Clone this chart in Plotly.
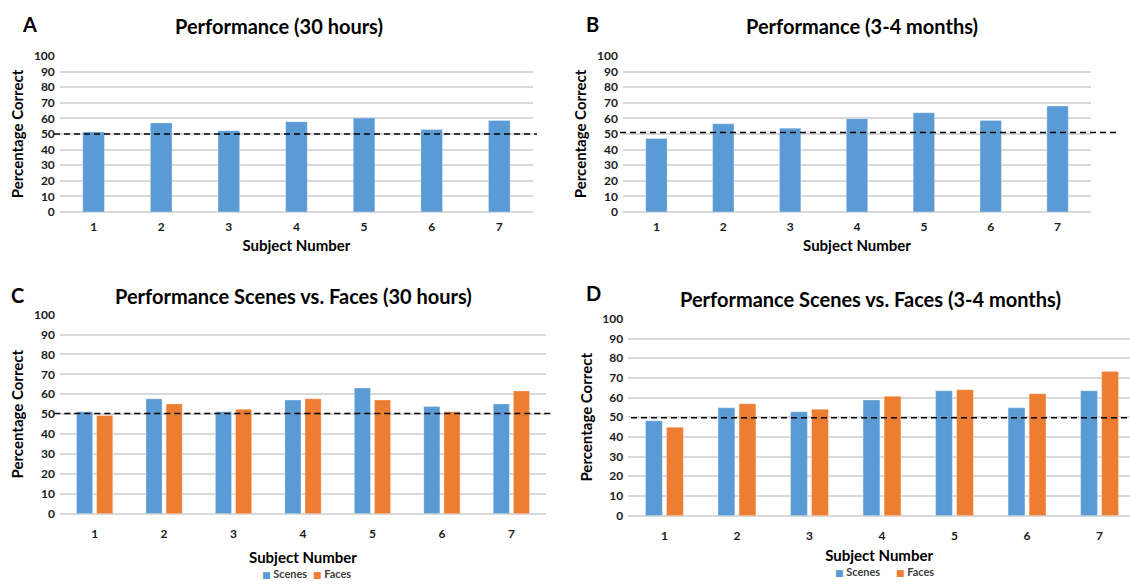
import plotly.graph_objects as go

subjects = ["1", "2", "3", "4", "5", "6", "7"]
perf_30h = [51.2, 57.1, 52.1, 57.9, 60.2, 52.9, 58.7]
perf_34m = [47.1, 56.5, 53.7, 59.8, 63.7, 58.7, 67.9]
scenes_30h = [51.2, 57.7, 51.2, 57.1, 63.1, 53.8, 55.1]
faces_30h = [49.3, 55.1, 52.5, 57.7, 57.1, 51.2, 61.7]
scenes_34m = [48.2, 54.8, 52.8, 58.7, 63.4, 54.8, 63.4]
faces_34m = [44.9, 56.8, 54.1, 60.7, 64.0, 62.0, 73.3]
chance = {"A": 50.0, "B": 51.0, "C": 50.3, "D": 49.8}
y_ticks = [0, 10, 20, 30, 40, 50, 60, 70, 80, 90, 100]
series_names = ["Scenes", "Faces"]

BLUE = "#5B9BD5"
ORANGE = "#ED7D31"
GRID = "#D9D9D9"
FONT = "Lato"
W, H = 1130, 586

def px(x):
    return x / W

def py(y):
    return 1 - y / H

fig = go.Figure()

bar_line = dict(color="rgba(255,255,255,0.5)", width=0.6)

fig.add_trace(go.Bar(x=subjects, y=perf_30h, marker=dict(color=BLUE, line=bar_line),
                     xaxis="x", yaxis="y", showlegend=False, width=0.32))
fig.add_trace(go.Bar(x=subjects, y=perf_34m, marker=dict(color=BLUE, line=bar_line),
                     xaxis="x2", yaxis="y2", showlegend=False, width=0.32))
fig.add_trace(go.Bar(x=subjects, y=scenes_30h, name=series_names[0], marker=dict(color=BLUE, line=bar_line),
                     xaxis="x3", yaxis="y3", showlegend=False, offsetgroup="s"))
fig.add_trace(go.Bar(x=subjects, y=faces_30h, name=series_names[1], marker=dict(color=ORANGE, line=bar_line),
                     xaxis="x3", yaxis="y3", showlegend=False, offsetgroup="f"))
fig.add_trace(go.Bar(x=subjects, y=scenes_34m, name=series_names[0], marker=dict(color=BLUE, line=bar_line),
                     xaxis="x4", yaxis="y4", showlegend=False, offsetgroup="s"))
fig.add_trace(go.Bar(x=subjects, y=faces_34m, name=series_names[1], marker=dict(color=ORANGE, line=bar_line),
                     xaxis="x4", yaxis="y4", showlegend=False, offsetgroup="f"))

tickfont = dict(family=FONT, size=12, color="#1a1a1a", weight="bold")
titlefont = dict(family=FONT, size=15, color="#000000", weight="bold")

def xax(dom, rng=(-0.5, 6.5), anchor="y", tstand=6, ttl=7):
    return dict(domain=dom, type="category", range=list(rng), anchor=anchor,
                showgrid=False, zeroline=False, showline=False, ticks="",
                tickfont=tickfont, ticklabelstandoff=tstand,
                title=dict(text="Subject Number", font=titlefont, standoff=ttl))

def yax(dom, anchor="x"):
    return dict(domain=dom, range=[0, 100], anchor=anchor, tickvals=y_ticks,
                showgrid=True, gridcolor=GRID, gridwidth=1.5, zeroline=True,
                zerolinecolor=GRID, zerolinewidth=1.5, showline=False, ticks="",
                tickfont=tickfont, ticklabelstandoff=4,
                title=dict(text="Percentage Correct", font=titlefont, standoff=6))

fig.update_layout(
    width=W, height=H,
    margin=dict(l=0, r=0, t=0, b=0),
    paper_bgcolor="white", plot_bgcolor="white",
    barmode="group",
    bargap=0.42, bargroupgap=0.2,
    showlegend=False,
    xaxis=xax([px(59.8), px(533.1)], anchor="y"),
    yaxis=yax([py(209.3), py(49.3)], anchor="x"),
    xaxis2=xax([px(623), px(1091)], anchor="y2"),
    yaxis2=yax([py(209.3), py(49.3)], anchor="x2"),
    xaxis3=xax([px(59.9), px(546.1)], anchor="y3", tstand=11, ttl=12),
    yaxis3=yax([py(519), py(314.7)], anchor="x3"),
    xaxis4=xax([px(628.2), 1.0], rng=(-0.5, 6.42), anchor="y4", tstand=11, ttl=8),
    yaxis4=yax([py(521), py(319)], anchor="x4"),
)

# dashed chance lines
for key, yref, x0, x1 in [("A", "y", 54, 537), ("B", "y2", 620, 1119),
                          ("C", "y3", 54.3, 552), ("D", "y4", 631, 1130)]:
    fig.add_shape(type="line", xref="paper", yref=yref, x0=px(x0), x1=px(x1),
                  y0=chance[key], y1=chance[key],
                  line=dict(color="black", width=1.5, dash="6px,4px"), layer="above")

titles = [("Performance (30 hours)", 279, 18.3),
          ("Performance (3-4 months)", 862, 18.3),
          ("Performance Scenes vs. Faces (30 hours)", 293, 296),
          ("Performance Scenes vs. Faces (3-4 months)", 870, 298.3)]
for t, x, y in titles:
    fig.add_annotation(text=t, x=px(x), y=py(y), xref="paper", yref="paper",
                       xanchor="center", yanchor="middle", showarrow=False,
                       font=dict(family=FONT, size=20, color="black", weight="bold"))

letters = [("A", 29.5, 16), ("B", 592, 16), ("C", 17.7, 295), ("D", 593, 292.7)]
for t, x, y in letters:
    fig.add_annotation(text=t, x=px(x), y=py(y), xref="paper", yref="paper",
                       xanchor="center", yanchor="middle", showarrow=False,
                       font=dict(family=FONT, size=20, color="black", weight="bold"))

# legends (small square keys next to the series names)
legend_items = [(series_names[0], BLUE, 261, 580), (series_names[1], ORANGE, 312, 580),
                (series_names[0], BLUE, 834, 578.5), (series_names[1], ORANGE, 895, 578.5)]
for nm, col, x, y in legend_items:
    fig.add_annotation(
        text='<span style="color:%s;font-size:9px;font-family:DejaVu Sans">■</span> %s' % (col, nm),
        x=px(x), y=py(y), xref="paper", yref="paper", xanchor="left", yanchor="middle",
        showarrow=False, borderpad=0,
        font=dict(family=FONT, size=11, color="#404040", weight="bold"))

fig.write_html("out.html")
